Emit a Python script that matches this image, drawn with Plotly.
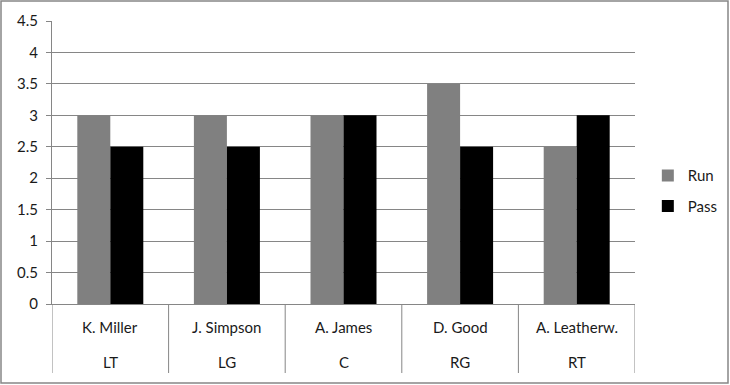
import plotly.graph_objects as go

positions = ["LT", "LG", "C", "RG", "RT"]
players = ["K. Miller", "J. Simpson", "A. James", "D. Good", "A. Leatherw."]
run_vals = [3, 3, 3, 3.5, 2.5]
pass_vals = [2.5, 2.5, 3, 2.5, 3]
y_ticks = [0, 0.5, 1, 1.5, 2, 2.5, 3, 3.5, 4, 4.5]

W, H = 730, 385
ml, mr, mt, mb = 52, 95, 21, 81
pw, ph = W - ml - mr, H - mt - mb
axis_y = H - mb

font = "Lato, Open Sans, sans-serif"
txt = "#1a1a1a"
grey = "#868686"

fig = go.Figure()
fig.add_trace(go.Bar(x=players, y=run_vals, name="Run", legendgroup="run",
                     marker=dict(color="#808080", line=dict(width=0))))
fig.add_trace(go.Bar(x=players, y=pass_vals, name="Pass", legendgroup="pass",
                     marker=dict(color="#000000", line=dict(width=0))))

fig.update_layout(
    width=W, height=H,
    margin=dict(l=ml, r=mr, t=mt, b=mb, autoexpand=False),
    paper_bgcolor="white", plot_bgcolor="white",
    barmode="group", bargap=0.434, bargroupgap=0,
    font=dict(family=font, size=15, color=txt),
    showlegend=True,
    legend=dict(x=1.022, y=0.40, xanchor="left", yanchor="middle",
                font=dict(size=15, color=txt), tracegroupgap=8,
                bgcolor="rgba(0,0,0,0)"),
    xaxis=dict(type="category", showline=True, linecolor=grey, linewidth=1,
               showticklabels=False, ticks="", automargin=False,
               range=[-0.5, len(players) - 0.5]),
    yaxis=dict(range=[0, 4.5], tickvals=y_ticks,
               ticktext=[f"{v:g}" for v in y_ticks],
               showgrid=True, gridcolor=grey, gridwidth=1,
               showline=True, linecolor=grey, linewidth=1,
               ticks="outside", ticklen=5, tickcolor=grey,
               ticklabelstandoff=5, automargin=False,
               zeroline=False, tickfont=dict(size=15, color=txt)),
)

# two-level category labels
for name, pos in zip(players, positions):
    fig.add_annotation(x=name, xref="x", yref="paper",
                       y=-(327 - axis_y) / ph, text=name, showarrow=False,
                       yanchor="middle", font=dict(size=15, color=txt))
    fig.add_annotation(x=name, xref="x", yref="paper",
                       y=-(362 - axis_y) / ph, text=pos, showarrow=False,
                       yanchor="middle", font=dict(size=15, color=txt))

# dividers between categories
for i in range(len(players) + 1):
    fig.add_shape(type="line", xref="x", yref="paper",
                  x0=i - 0.5, x1=i - 0.5, y0=0, y1=-(373 - axis_y) / ph,
                  line=dict(color=grey, width=1))

# chart border
fig.add_shape(type="rect", xref="paper", yref="paper",
              x0=(1 - ml) / pw, x1=(W - 2 - ml) / pw,
              y0=-(H - 2 - axis_y) / ph, y1=1 + (mt - 1) / ph,
              line=dict(color=grey, width=1.5), fillcolor="rgba(0,0,0,0)",
              layer="above")

fig.write_html("out.html",
               config={"displayModeBar": False, "staticPlot": True},
               post_script="document.body.style.margin='0';"
                           "document.body.style.padding='0';")
